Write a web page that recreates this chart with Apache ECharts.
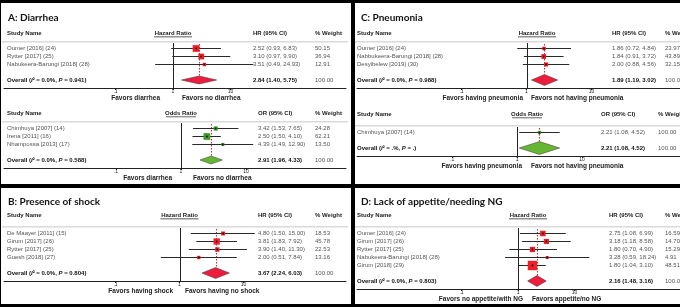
<!DOCTYPE html>
<html lang="en">
<head>
  <meta charset="UTF-8">
  <title>Forest plots</title>
  <style>html,body{margin:0;padding:0;background:#fff}</style>
</head>
<body>
  <div id="main" style="width:680px;height:307px"></div>
  <script src="https://cdn.jsdelivr.net/npm/echarts@6/dist/echarts.min.js"></script>
  <script>
    // A: diarrhea - hazard ratios
    var aHrStudy = ['Oumer [2016] (24)', 'Rytter [2017] (25)', 'Nabukeera-Barungi [2018] (28)']
    var aHrEst = [2.52, 3.10, 3.51]
    var aHrLow = [0.93, 0.97, 0.49]
    var aHrHigh = [6.83, 9.90, 24.93]
    var aHrWeight = [50.15, 36.94, 12.91]
    var aHrOverall = [2.84, 1.40, 5.75]
    var aHrHet = ['0.0%', '0.941']

    // A: diarrhea - odds ratios
    var aOrStudy = ['Chimhuya [2007] (14)', 'Irena [2011] (16)', 'Nhampossa [2013] (17)']
    var aOrEst = [3.42, 2.50, 4.39]
    var aOrLow = [1.53, 1.50, 1.49]
    var aOrHigh = [7.65, 4.10, 12.90]
    var aOrWeight = [24.28, 62.21, 13.50]
    var aOrOverall = [2.91, 1.96, 4.33]
    var aOrHet = ['0.0%', '0.588']
    var aFavors = ['Favors diarrhea', 'Favors no diarrhea']

    // B: presence of shock
    var bStudy = ['De Maayer [2011] (15)', 'Girum [2017] (26)', 'Rytter [2017] (25)', 'Guesh [2018] (27)']
    var bEst = [4.80, 3.81, 3.90, 2.00]
    var bLow = [1.50, 1.83, 1.40, 0.51]
    var bHigh = [15.00, 7.92, 11.30, 7.84]
    var bWeight = [18.53, 45.78, 22.53, 13.16]
    var bOverall = [3.67, 2.24, 6.03]
    var bHet = ['0.0%', '0.804']
    var bFavors = ['Favors having shock', 'Favors having no shock']

    // C: pneumonia - hazard ratios
    var cHrStudy = ['Oumer [2016] (24)', 'Nabbukeera-Barungi [2018] (28)', 'Desyibelew [2019] (30)']
    var cHrEst = [1.86, 1.84, 2.00]
    var cHrLow = [0.72, 0.91, 0.88]
    var cHrHigh = [4.84, 3.72, 4.56]
    var cHrWeight = [23.97, 43.89, 32.15]
    var cHrOverall = [1.89, 1.19, 3.02]
    var cHrHet = ['0.0%', '0.988']

    // C: pneumonia - odds ratios
    var cOrStudy = ['Chimhuya [2007] (14)']
    var cOrEst = [2.21]
    var cOrLow = [1.08]
    var cOrHigh = [4.52]
    var cOrWeight = [100.00]
    var cOrOverall = [2.21, 1.08, 4.52]
    var cOrHet = ['.%', '.']
    var cFavors = ['Favors having pneumonia', 'Favors not having pneumonia']

    // D: lack of appetite / needing NG
    var dStudy = ['Oumer [2016] (24)', 'Girum [2017] (26)', 'Rytter [2017] (25)', 'Nabukeera-Barungi [2018] (28)', 'Girum [2018] (29)']
    var dEst = [2.75, 3.18, 1.80, 3.28, 1.80]
    var dLow = [1.08, 1.18, 0.70, 0.59, 1.04]
    var dHigh = [6.99, 8.58, 4.90, 18.24, 3.10]
    var dWeight = [16.59, 14.70, 15.29, 4.91, 48.51]
    var dOverall = [2.16, 1.48, 3.16]
    var dHet = ['0.0%', '0.803']
    var dFavors = ['Favors no appetite/with NG', 'Favors appetite/no NG']

    var tickValues = [0.1, 1, 10]
    var tickLabels = ['.1', '1', '10']

    var titles = [
      { text: 'A: Diarrhea', x: 8, y: 18 },
      { text: 'B: Presence of shock', x: 8, y: 202 },
      { text: 'C: Pneumonia', x: 361, y: 18 },
      { text: 'D: Lack of appetite/needing NG', x: 361, y: 202 }
    ]

    var font = 'Liberation Sans, Arial, sans-serif'
    var red = { box: '#f21c26', diamond: '#ee1d3d' }
    var green = { box: '#3d9a2a', diamond: '#66b634' }

    // layout of each block (pixels)
    var sections = [
      { study: aHrStudy, est: aHrEst, low: aHrLow, high: aHrHigh, weight: aHrWeight, overall: aHrOverall, het: aHrHet,
        measure: 'HR', ratio: 'Hazard Ratio', favors: aFavors, colors: red,
        box: { left: 4, right: 346, one: 173, decade: 57.5, row0: 48, head: 33, name: 7, ci: 253, wt: 315, favL: 160, favR: 182, scale: 0.95, diamond: 4, under: 38 } },
      { study: aOrStudy, est: aOrEst, low: aOrLow, high: aOrHigh, weight: aOrWeight, overall: aOrOverall, het: aOrHet,
        measure: 'OR', ratio: 'Odds Ratio', favors: aFavors, colors: green,
        box: { left: 4, right: 346, one: 181, decade: 65, row0: 128, head: 113, name: 7, ci: 258, wt: 315, favL: 172, favR: 193, scale: 0.85, diamond: 4, under: 30 } },
      { study: bStudy, est: bEst, low: bLow, high: bHigh, weight: bWeight, overall: bOverall, het: bHet,
        measure: 'HR', ratio: 'Hazard Ratio', favors: bFavors, colors: red,
        box: { left: 4, right: 346, one: 179.5, decade: 64, row0: 233, head: 215, name: 7, ci: 258, wt: 315, favL: 173, favR: 185, scale: 0.93, diamond: 5.5, under: 38 } },
      { study: cHrStudy, est: cHrEst, low: cHrLow, high: cHrHigh, weight: cHrWeight, overall: cHrOverall, het: cHrHet,
        measure: 'HR', ratio: 'Hazard Ratio', favors: cFavors, colors: red,
        box: { left: 357, right: 700, one: 537, decade: 69, row0: 48, head: 33, name: 357, ci: 612, wt: 665, favL: 523, favR: 531, scale: 0.72, diamond: 5.5, under: 38 } },
      { study: cOrStudy, est: cOrEst, low: cOrLow, high: cOrHigh, weight: cOrWeight, overall: cOrOverall, het: cOrHet,
        measure: 'OR', ratio: 'Odds Ratio', favors: cFavors, colors: green,
        box: { left: 357, right: 700, one: 527, decade: 69, row0: 132, head: 114, name: 357, ci: 601, wt: 658, favL: 522, favR: 531, scale: 0.33, diamond: 6.5, under: 30 } },
      { study: dStudy, est: dEst, low: dLow, high: dHigh, weight: dWeight, overall: dOverall, het: dHet,
        measure: 'HR', ratio: 'Hazard Ratio', favors: dFavors, colors: red,
        box: { left: 357, right: 700, one: 528, decade: 60, row0: 233, head: 215, name: 357, ci: 609, wt: 665, favL: 523, favR: 532, scale: 1.35, diamond: 5.5, under: 38 } }
    ]

    function ciText(e, l, h) {
      return e.toFixed(2) + ' (' + l.toFixed(2) + ', ' + h.toFixed(2) + ')'
    }

    function txt(x, y, text, weight, color) {
      return { type: 'text', x: x, y: y, style: { text: text, fill: color || '#555', font: (weight || 'normal') + ' 6px ' + font, verticalAlign: 'middle' } }
    }

    function rowItem(s) {
      return function (params, api) {
        var i = api.value(0)
        var c = api.coord([Math.log10(api.value(1)), i])
        var lo = api.coord([Math.log10(api.value(2)), i])
        var hi = api.coord([Math.log10(api.value(3)), i])
        var side = s.box.scale * Math.sqrt(api.value(4))
        var y = Math.round(c[1])
        return { type: 'group', children: [
          // confidence interval as a 1px bar
          { type: 'rect', shape: { x: lo[0], y: y, width: hi[0] - lo[0], height: 1 }, style: { fill: '#2a2a2a' } },
          { type: 'rect', shape: { x: c[0] - side / 2, y: y + 0.5 - side / 2, width: side, height: side }, style: { fill: s.colors.box } },
          { type: 'circle', shape: { cx: c[0], cy: y + 0.5, r: 0.9 }, style: { fill: '#111' } },
          txt(s.box.name, y + 0.5, s.study[i]),
          txt(s.box.ci, y + 0.5, ciText(api.value(1), api.value(2), api.value(3))),
          txt(s.box.wt, y + 0.5, api.value(4).toFixed(2))
        ] }
      }
    }

    function overallItem(s) {
      return function (params, api) {
        var row = api.value(0)
        var e = api.coord([Math.log10(api.value(1)), row])
        var lo = api.coord([Math.log10(api.value(2)), row])
        var hi = api.coord([Math.log10(api.value(3)), row])
        var top = api.coord([0, -0.75])
        var bottom = api.coord([0, row + 1])
        var first = api.coord([0, -0.5])
        var h = s.box.diamond
        var y = e[1]
        var ref = Math.round(top[0])
        var ex = Math.round(e[0])
        var dash = []
        // red dashed guide at the pooled estimate
        for (var d = first[1]; d < y - h; d += 3) {
          dash.push({ type: 'rect', shape: { x: ex, y: d, width: 1, height: Math.min(1.6, y - h - d) }, style: { fill: '#e0202a' } })
        }
        return { type: 'group', children: [
          { type: 'rect', shape: { x: ref, y: top[1] + 1, width: 1, height: bottom[1] - top[1] - 1 }, style: { fill: '#222' } },
          { type: 'polygon', shape: { points: [[lo[0], y], [e[0], y - h], [hi[0], y], [e[0], y + h]] },
            style: { fill: s.colors.diamond, stroke: '#333', lineWidth: 0.5 } },
          { type: 'text', x: s.box.name, y: y, style: {
              text: '{b|Overall (}{i|I}{b|² = ' + s.het[0] + ', }{i|P}{b| = ' + s.het[1] + ')}',
              verticalAlign: 'middle',
              rich: {
                b: { font: 'bold 6px ' + font, fill: '#111' },
                i: { font: 'italic bold 6px ' + font, fill: '#111' }
              } } },
          txt(s.box.ci, y, ciText(api.value(1), api.value(2), api.value(3)), 'bold', '#111'),
          txt(s.box.wt, y, '100.00')
        ].concat(dash) }
      }
    }

    var grids = [], xAxes = [], yAxes = [], series = [], graphics = []

    sections.forEach(function (s, k) {
      var L = s.box
      var n = s.study.length
      var tickLog = tickValues.map(function (v) { return Math.log10(v) })
      grids.push({ left: L.left, top: L.row0 - 6, width: L.right - L.left, height: 8 * (n + 2.75) })
      xAxes.push({
        gridIndex: k, type: 'value',
        min: (L.left - L.one) / L.decade, max: (L.right - L.one) / L.decade,
        axisLine: { onZero: false, lineStyle: { color: '#222', width: 1 } },
        axisTick: { customValues: tickLog, length: 2, lineStyle: { color: '#222' } },
        axisLabel: { customValues: tickLog, margin: 1, fontSize: 5, color: '#222', fontFamily: font,
          formatter: function (v) { return tickLabels[Math.round(v) + 1] } },
        splitLine: { show: false }
      })
      yAxes.push({ gridIndex: k, type: 'value', inverse: true, min: -0.75, max: n + 2, show: false })

      var rows = s.study.map(function (name, i) { return [i, s.est[i], s.low[i], s.high[i], s.weight[i]] })
      series.push({ type: 'custom', xAxisIndex: k, yAxisIndex: k, silent: true, z: 2,
        data: [[n + 1].concat(s.overall)], renderItem: overallItem(s) })
      series.push({ type: 'custom', xAxisIndex: k, yAxisIndex: k, silent: true, z: 3,
        data: rows, renderItem: rowItem(s) })

      // header row
      var hy = L.head
      var sepY = L.row0 - 6
      graphics.push({ type: 'rect', shape: { x: L.left - 2, y: sepY - 1, width: L.right - L.left + 4, height: 1.5 }, style: { fill: '#dadada' } })
      graphics.push({ type: 'text', x: L.name, y: hy, style: { text: 'Study Name', font: 'bold 6px ' + font, fill: '#222', verticalAlign: 'middle' } })
      graphics.push({ type: 'text', x: L.one, y: hy, style: { text: s.ratio, font: 'bold 6px ' + font, fill: '#222', align: 'center', verticalAlign: 'middle' } })
      graphics.push({ type: 'rect', shape: { x: L.one - L.under / 2, y: hy + 3.5, width: L.under, height: 0.7 }, style: { fill: '#222' } })
      graphics.push({ type: 'text', x: L.ci, y: hy, style: { text: s.measure + ' (95% CI)', font: 'bold 6px ' + font, fill: '#222', verticalAlign: 'middle' } })
      graphics.push({ type: 'text', x: L.wt, y: hy, style: { text: '% Weight', font: 'bold 6px ' + font, fill: '#222', verticalAlign: 'middle' } })
      // favours labels under the axis
      var fy = L.row0 - 6 + 8 * (n + 2.75) + 10
      graphics.push({ type: 'text', x: L.favL, y: fy, style: { text: s.favors[0], font: 'bold 6.5px ' + font, fill: '#222', align: 'right', verticalAlign: 'middle' } })
      graphics.push({ type: 'text', x: L.favR, y: fy, style: { text: s.favors[1], font: 'bold 6.5px ' + font, fill: '#222', align: 'left', verticalAlign: 'middle' } })
    })

    titles.forEach(function (t) {
      graphics.push({ type: 'text', x: t.x, y: t.y, style: { text: t.text, font: 'bold 10px Lato, sans-serif', fill: '#111', verticalAlign: 'middle' } })
    })

    // panel frame
    var frame = [[0, 0, 680, 3], [0, 0, 1, 307], [351, 0, 4, 307], [0, 184, 680, 4], [0, 304, 680, 3]]
    frame.forEach(function (f) {
      graphics.push({ type: 'rect', z: 100, shape: { x: f[0], y: f[1], width: f[2], height: f[3] }, style: { fill: '#000' } })
    })

    var options = {
      animation: false,
      grid: grids,
      xAxis: xAxes,
      yAxis: yAxes,
      series: series,
      graphic: graphics
    }

    var chart = echarts.init(document.getElementById('main'))
    chart.setOption(options)
  </script>
</body>
</html>
